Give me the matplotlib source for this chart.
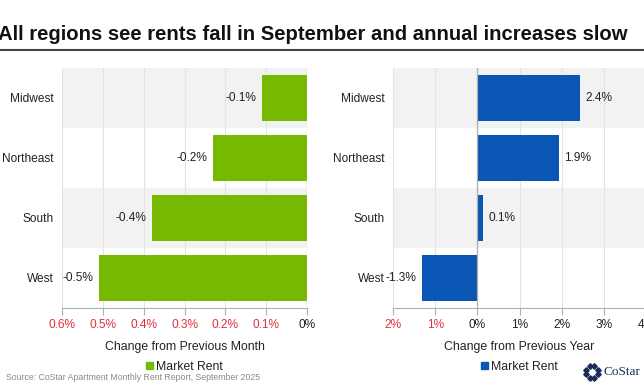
import numpy as np
import matplotlib
matplotlib.use("Agg")
import matplotlib.pyplot as plt
from matplotlib.patches import Patch

plt.rcParams['font.family'] = ['Liberation Sans', 'DejaVu Sans']

# data
regions = ["Midwest", "Northeast", "South", "West"]
monthly_change = [-0.11, -0.23, -0.38, -0.51]
monthly_labels = ["-0.1%", "-0.2%", "-0.4%", "-0.5%"]
annual_change = [2.43, 1.93, 0.14, -1.31]
annual_labels = ["2.4%", "1.9%", "0.1%", "-1.3%"]

month_ticks = [-0.6, -0.5, -0.4, -0.3, -0.2, -0.1, 0.0]
month_ticklabels = ["0.6%", "0.5%", "0.4%", "0.3%", "0.2%", "0.1%", "0%"]
year_ticks = [-2, -1, 0, 1, 2, 3, 4]
year_ticklabels = ["2%", "1%", "0%", "1%", "2%", "3%", "4%"]

GREEN = "#76b900"
BLUE = "#0a56b4"
RED = "#e0303c"
TXT = "#222222"


def style_panel(ax, values, labels, color, ticks, ticklabels, xlabel):
    y = np.arange(len(values))
    for i in y[::2]:
        ax.axhspan(i - 0.5, i + 0.5, color="#f2f2f2", zorder=0, lw=0)
    for t in ticks:
        ax.axvline(t, color="#e3e3e3", lw=0.8, zorder=1)
    ax.axvline(0, color="#b0b0b0", lw=0.9, zorder=3)
    ax.barh(y, values, height=0.77, color=color, zorder=2)
    ax.set_ylim(len(values) - 0.5, -0.5)
    ax.set_xlim(ticks[0], ticks[-1])
    ax.set_yticks(y)
    ax.set_yticklabels(regions, fontsize=8.6, color=TXT)
    ax.tick_params(axis="y", length=0, pad=6)
    ax.set_xticks(ticks)
    ax.set_xticklabels(ticklabels, fontsize=8.6)
    for t, lab in zip(ticks, ax.get_xticklabels()):
        lab.set_color(RED if t < 0 else TXT)
    ax.tick_params(axis="x", length=5, color="#b0b0b0", pad=3)
    for s in ["top", "right", "left"]:
        ax.spines[s].set_visible(False)
    ax.spines["bottom"].set_color("#b0b0b0")
    ax.set_xlabel(xlabel, fontsize=8.8, color=TXT, labelpad=7)
    for i, (v, lab) in enumerate(zip(values, labels)):
        off = -4 if v < 0 else 4
        ax.annotate(lab, (v, i), xytext=(off, 0), textcoords="offset points",
                    ha="right" if v < 0 else "left", va="center",
                    fontsize=8.6, color=TXT, zorder=4)
    ax.legend(handles=[Patch(color=color, label="Market Rent")], loc="upper center",
              bbox_to_anchor=(0.5, -0.195), frameon=False, fontsize=8.8,
              handlelength=0.55, handleheight=0.55, handletextpad=0.3,
              borderpad=0, labelcolor=TXT)


fig = plt.figure(figsize=(6.44, 3.92), dpi=100)

ax1 = fig.add_axes([62 / 644, 84 / 392, 245 / 644, 240 / 392])
style_panel(ax1, monthly_change, monthly_labels, GREEN, month_ticks, month_ticklabels,
            "Change from Previous Month")

ax2 = fig.add_axes([393 / 644, 84 / 392, 253 / 644, 240 / 392])
style_panel(ax2, annual_change, annual_labels, BLUE, year_ticks, year_ticklabels,
            "Change from Previous Year")

fig.text(-0.003, 1 - 35 / 392, "All regions see rents fall in September and annual increases slow",
         fontsize=14.6, fontweight="bold", color="#111111", va="center", ha="left")
fig.add_artist(plt.Line2D([0, 1], [1 - 50 / 392] * 2, color="#444444", lw=1.5))

fig.text(6 / 644, 1 - 378 / 392, "Source: CoStar Apartment Monthly Rent Report, September 2025",
         fontsize=6.3, color="#8a8a8a", va="center", ha="left")

# CoStar logo approximation
ang = np.linspace(0, 2 * np.pi, 8, endpoint=False) + np.pi / 8
lx, ly = 592 / 644, 1 - 372 / 392
fig.add_artist(plt.Line2D(lx + 0.0095 * np.cos(ang), ly + 0.0155 * np.sin(ang), ls="none",
                          marker="D", ms=2.8, color="#1c2c5a", transform=fig.transFigure))
fig.text(603 / 644, ly, "CoStar", fontsize=9.5, family="Liberation Serif", color="#1c2c5a",
         va="center", ha="left")

fig.savefig("out.png", dpi=100)
